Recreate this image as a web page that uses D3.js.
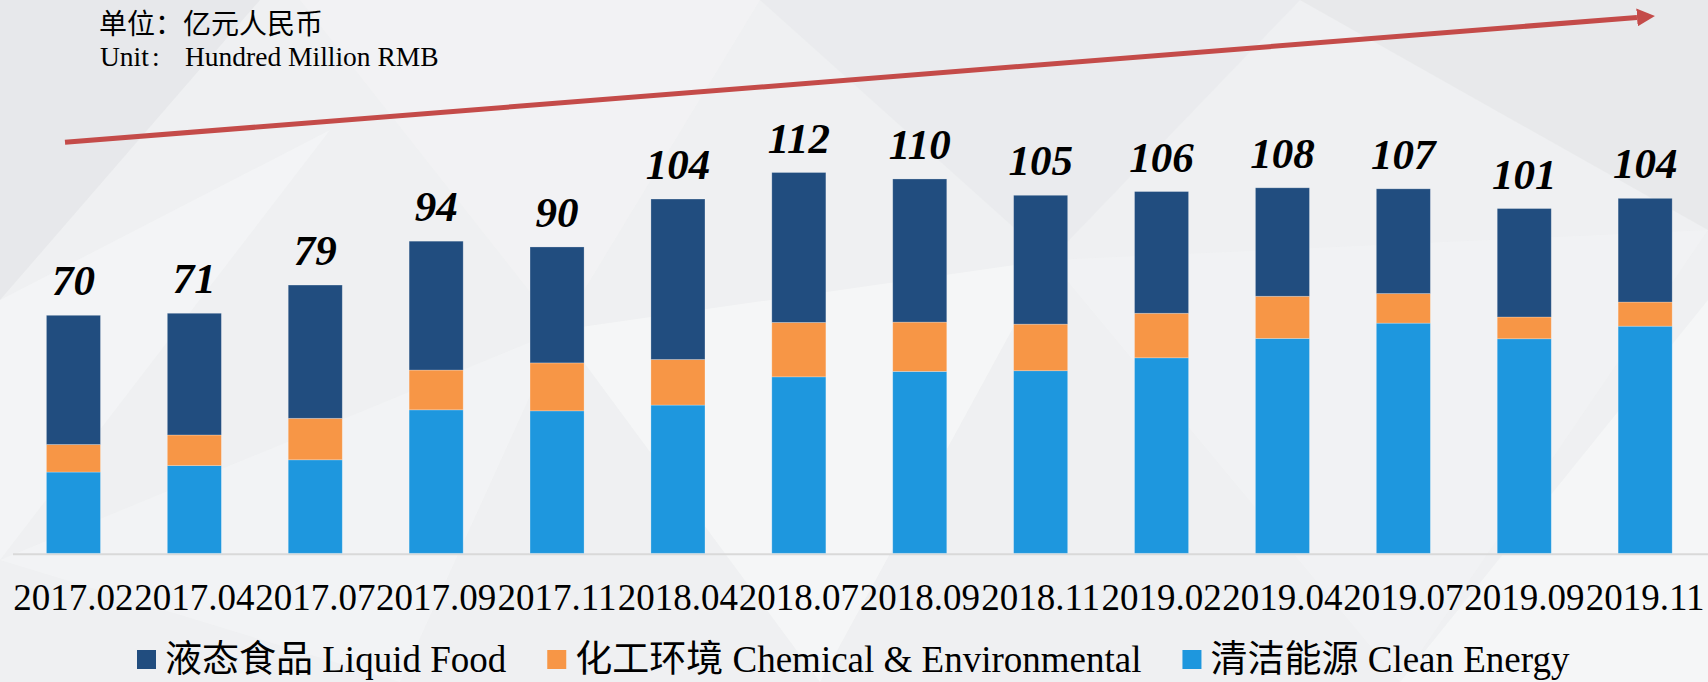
<!DOCTYPE html>
<html lang="en">
<head>
    <meta charset="UTF-8">
    <title>Stacked bars</title>
    <script src="https://cdnjs.cloudflare.com/ajax/libs/d3/7.8.5/d3.min.js"></script>
<style>
    body { margin: 0; background: #eff0f2; }
    svg { display: block; }
</style>
</head>
<body>
<div id="chart"></div>
<script>

    // periods on the x axis
    var periods = ["2017.02", "2017.04", "2017.07", "2017.09", "2017.11", "2018.04", "2018.07",
        "2018.09", "2018.11", "2019.02", "2019.04", "2019.07", "2019.09", "2019.11"];
    // values per segment (hundred million RMB)
    var cleanEnergy = [23.9, 25.8, 27.5, 42.2, 41.9, 43.6, 51.9, 53.5, 53.7, 57.5, 63.2, 67.7, 63.1, 66.8];
    var chemical = [8.1, 9.0, 12.2, 11.7, 14.1, 13.4, 16.0, 14.5, 13.7, 13.1, 12.4, 8.7, 6.4, 7.1];
    var liquidFood = [38.0, 35.8, 39.2, 37.9, 34.1, 47.2, 44.1, 42.1, 37.9, 35.8, 31.9, 30.8, 31.9, 30.5];
    // totals printed above the bars
    var totals = [70, 71, 79, 94, 90, 104, 112, 110, 105, 106, 108, 107, 101, 104];

    var keys = ["clean", "chem", "liquid"];
    var legendKeys = ["liquid", "chem", "clean"];
    var names = {
        liquid: ["液态食品", "Liquid Food"],
        chem: ["化工环境", "Chemical & Environmental"],
        clean: ["清洁能源", "Clean Energy"]
    };
    var colors = {liquid: "#214d7f", chem: "#f79646", clean: "#1e97de"};

    var width = 1708;
    var height = 682;
    var serif = "'Liberation Serif', 'Times New Roman', serif";
    var cjk = "'Noto Sans CJK SC', sans-serif";

    var svg = d3.select("#chart")
        .append("svg")
        .attr("width", width)
        .attr("height", height);

    // light low-poly background
    svg.append("rect").attr("width", width).attr("height", height).attr("fill", "#eff0f2");
    var shards = [
        [[0, 0], [260, 0], [0, 300]],
        [[0, 300], [330, 130], [0, 560]],
        [[300, 0], [760, 0], [560, 330]],
        [[760, 0], [1300, 0], [1050, 260]],
        [[1300, 0], [1708, 0], [1708, 230]],
        [[560, 330], [1050, 260], [820, 682]],
        [[1050, 260], [1708, 230], [1400, 682]],
        [[0, 560], [560, 330], [400, 682]],
        [[1400, 682], [1708, 300], [1708, 682]]
    ];
    var shardFill = ["#e5e6e8", "#f4f5f6", "#f2f3f4", "#e9eaec", "#e6e7e9", "#f6f7f8", "#f1f2f4", "#f3f4f5", "#f6f7f8"];
    svg.selectAll(".shard")
        .data(shards)
        .enter()
        .append("polygon")
        .attr("class", "shard")
        .attr("points", function(d) { return d.map(function(p) { return p.join(","); }).join(" "); })
        .attr("fill", function(d, i) { return shardFill[i]; })
        .attr("opacity", 0.8);

    var rows = periods.map(function(p, i) {
        return {period: p, clean: cleanEnergy[i], chem: chemical[i], liquid: liquidFood[i], total: totals[i]};
    });

    var x = d3.scaleBand()
        .domain(periods)
        .range([13, 1705.6])
        .paddingInner(0.553)
        .paddingOuter(0.2765);

    var y = d3.scaleLinear()
        .domain([0, 100])
        .range([553.3, 213.3]);

    var series = d3.stack().keys(keys)(rows);

    // baseline
    svg.append("line")
        .attr("x1", 13).attr("x2", width)
        .attr("y1", y(0) + 1).attr("y2", y(0) + 1)
        .attr("stroke", "#d9d9d9")
        .attr("stroke-width", 2);

    svg.selectAll(".layer")
        .data(series)
        .enter()
        .append("g")
        .attr("class", "layer")
        .attr("fill", function(d) { return colors[d.key]; })
        .selectAll("rect")
        .data(function(d) { return d; })
        .enter()
        .append("rect")
        .attr("x", function(d) { return x(d.data.period); })
        .attr("width", x.bandwidth())
        .attr("y", function(d) { return y(d[1]); })
        .attr("height", function(d) { return y(d[0]) - y(d[1]); })
        .attr("stroke", "rgba(255,255,255,0.3)")
        .attr("stroke-width", 0.8);

    // totals
    svg.selectAll(".total")
        .data(rows)
        .enter()
        .append("text")
        .attr("class", "total")
        .attr("x", function(d) { return x(d.period) + x.bandwidth() / 2; })
        .attr("y", function(d) { return y(d.clean + d.chem + d.liquid) - 20; })
        .attr("text-anchor", "middle")
        .style("font-family", serif)
        .style("font-weight", "bold")
        .style("font-style", "italic")
        .style("font-size", "43px")
        .attr("fill", "#000")
        .text(function(d) { return d.total; });

    // x axis labels
    var xAxis = d3.axisBottom(x).tickSize(0).tickPadding(0);
    var gx = svg.append("g")
        .attr("transform", "translate(0,610)")
        .call(xAxis);
    gx.select(".domain").remove();
    gx.selectAll("text")
        .attr("dy", 0)
        .style("font-family", serif)
        .style("font-size", "37px")
        .attr("fill", "#000");

    // unit note
    svg.append("text")
        .attr("x", 99).attr("y", 33.5)
        .style("font-family", cjk)
        .style("font-size", "28px")
        .attr("fill", "#000")
        .text("单位：亿元人民币");
    var unit = svg.append("text")
        .attr("x", 100).attr("y", 66)
        .style("font-family", serif)
        .style("font-size", "27.5px")
        .attr("fill", "#000");
    unit.append("tspan").text("Unit");
    unit.append("tspan").attr("dx", 3).text(":");
    unit.append("tspan").attr("x", 185).text("Hundred Million RMB");

    // trend arrow
    svg.append("defs").append("marker")
        .attr("id", "head")
        .attr("viewBox", "0 0 10 10")
        .attr("refX", 0).attr("refY", 5)
        .attr("markerWidth", 3.6).attr("markerHeight", 3.6)
        .attr("markerUnits", "strokeWidth")
        .attr("orient", "auto")
        .append("path")
        .attr("d", "M0,0 L10,5 L0,10 Z")
        .attr("fill", "#c44b49");
    svg.append("line")
        .attr("x1", 65).attr("y1", 142.3)
        .attr("x2", 1637).attr("y2", 17.4)
        .attr("stroke", "#c44b49")
        .attr("stroke-width", 5)
        .attr("marker-end", "url(#head)");

    // legend
    var legend = svg.append("g").attr("class", "legend");
    var lx = 137;
    legendKeys.forEach(function(k) {
        legend.append("rect")
            .attr("x", lx).attr("y", 650)
            .attr("width", 19).attr("height", 19)
            .attr("fill", colors[k]);
        var t = legend.append("text")
            .attr("x", lx + 28).attr("y", 672)
            .style("font-size", "37px")
            .attr("fill", "#000");
        t.append("tspan").style("font-family", cjk).text(names[k][0]);
        t.append("tspan").style("font-family", serif).text(" " + names[k][1]);
        lx = lx + 28 + t.node().getComputedTextLength() + 41;
    });

</script>
</body>
</html>
